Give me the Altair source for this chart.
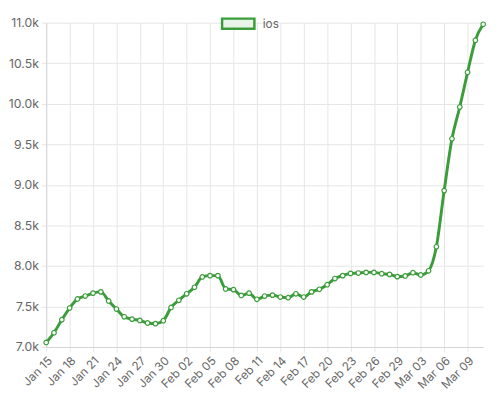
import altair as alt
import pandas as pd

dates = [
    "2024-01-15", "2024-01-16", "2024-01-17", "2024-01-18", "2024-01-19", "2024-01-20",
    "2024-01-21", "2024-01-22", "2024-01-23", "2024-01-24", "2024-01-25", "2024-01-26",
    "2024-01-27", "2024-01-28", "2024-01-29", "2024-01-30", "2024-01-31",
    "2024-02-01", "2024-02-02", "2024-02-03", "2024-02-04", "2024-02-05", "2024-02-06",
    "2024-02-07", "2024-02-08", "2024-02-09", "2024-02-10", "2024-02-11", "2024-02-12",
    "2024-02-13", "2024-02-14", "2024-02-15", "2024-02-16", "2024-02-17", "2024-02-18",
    "2024-02-19", "2024-02-20", "2024-02-21", "2024-02-22", "2024-02-23", "2024-02-24",
    "2024-02-25", "2024-02-26", "2024-02-27", "2024-02-28", "2024-02-29",
    "2024-03-01", "2024-03-02", "2024-03-03", "2024-03-04", "2024-03-05", "2024-03-06",
    "2024-03-07", "2024-03-08", "2024-03-09", "2024-03-10", "2024-03-11",
]
ios = [
    7056, 7176, 7336, 7480, 7592, 7628, 7664, 7680, 7568, 7468, 7372, 7344, 7328, 7296,
    7288, 7324, 7488,
    7576, 7656, 7736, 7864, 7880, 7880, 7716, 7708, 7636, 7664, 7588, 7628, 7640, 7616,
    7608, 7656, 7616, 7680, 7712, 7768, 7844, 7880, 7908, 7912, 7920, 7920, 7904, 7896,
    7868,
    7876, 7916, 7888, 7940, 8236, 8929, 9568, 9960, 10388, 10784, 10980,
]
tick_dates = [
    (1, 15), (1, 18), (1, 21), (1, 24), (1, 27), (1, 30), (2, 2), (2, 5), (2, 8),
    (2, 11), (2, 14), (2, 17), (2, 20), (2, 23), (2, 26), (2, 29), (3, 3), (3, 6), (3, 9),
]
y_ticks = [7000, 7500, 8000, 8500, 9000, 9500, 10000, 10500, 11000]
series_name = "ios"

GREEN = "#3a9d3a"
TEXT = "#666666"
FONT = "Inter"

df = pd.DataFrame({"date": dates, "value": ios, "series": [series_name] * len(dates)})

x_enc = alt.X(
    "date:T",
    scale=alt.Scale(
        type="utc",
        nice=False,
        domain=[
            alt.DateTime(year=2024, month=1, date=15, utc=True),
            alt.DateTime(year=2024, month=3, date=11, utc=True),
        ],
    ),
    axis=alt.Axis(
        values=[alt.DateTime(year=2024, month=m, date=d, utc=True) for m, d in tick_dates],
        format="%b %d",
        labelAngle=-45,
        labelOverlap=False,
        title=None,
    ),
)
y_enc = alt.Y(
    "value:Q",
    scale=alt.Scale(domain=[7000, 11000], nice=False),
    axis=alt.Axis(
        values=y_ticks,
        labelExpr="format(datum.value / 1000, '.1f') + 'k'",
        title=None,
    ),
)

line = alt.Chart(df).mark_line(
    interpolate="monotone", strokeWidth=3
).encode(
    x=x_enc,
    y=y_enc,
    color=alt.Color(
        "series:N",
        scale=alt.Scale(domain=[series_name], range=[GREEN]),
        legend=alt.Legend(
            title=None,
            orient="none",
            legendX=184,
            legendY=-11,
            padding=0,
            symbolType="M-1.6,-0.5H1.6V0.5H-1.6Z",
            symbolSize=425,
            symbolFillColor="#e9f4e9",
            symbolStrokeColor=GREEN,
            symbolStrokeWidth=2.5,
            labelOffset=13,
            labelFontSize=12,
            labelColor=TEXT,
            labelFont=FONT,
        ),
    ),
)

points = alt.Chart(df).mark_point(
    filled=True, fill="white", stroke=GREEN, strokeWidth=1.2, size=22, opacity=1
).encode(x=x_enc, y=y_enc)

chart = (
    alt.layer(line, points)
    .properties(width=446, height=331, padding={"left": 0, "top": 0, "right": 3, "bottom": 0})
    .configure_view(stroke=None)
    .configure_axis(
        gridColor="#e5e5e5",
        domainColor="#d4d4d4",
        tickColor="#e5e5e5",
        tickSize=5,
        labelFont=FONT,
        labelFontSize=12.5,
        labelColor=TEXT,
        labelPadding=3,
    )
    .configure_axisX(labelFontSize=12)
)

chart.save("out.html", embed_options={"renderer": "svg", "actions": False})
